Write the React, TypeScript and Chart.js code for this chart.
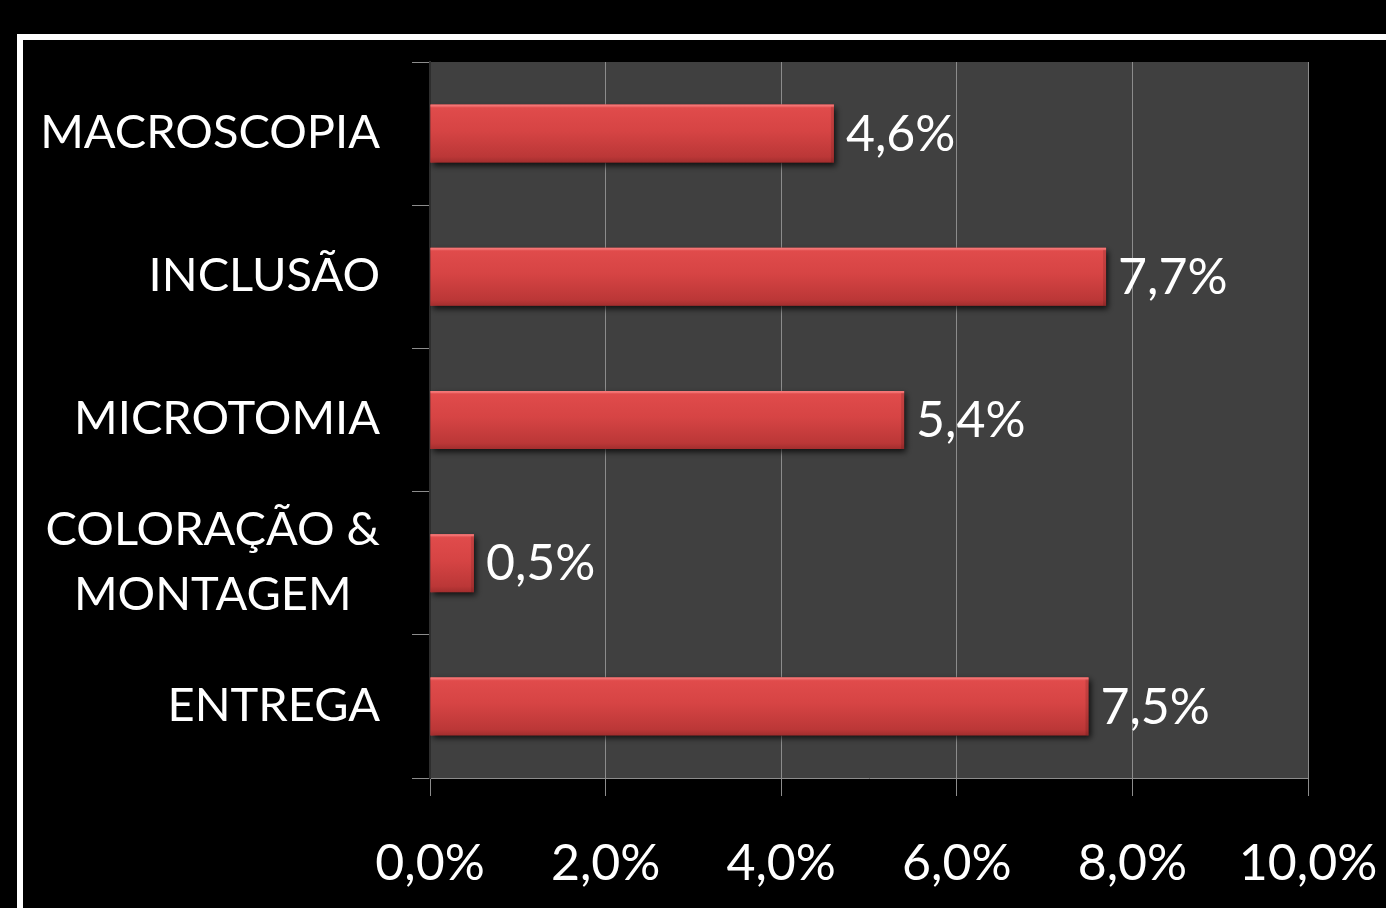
import React, { useEffect, useRef } from "react";
import { Chart, registerables } from "chart.js";

Chart.register(...registerables);

const categories: string[][] = [
  ["MACROSCOPIA"],
  ["INCLUSÃO"],
  ["MICROTOMIA"],
  ["COLORAÇÃO &", "MONTAGEM"],
  ["ENTREGA"],
];
const values: number[] = [4.6, 7.7, 5.4, 0.5, 7.5];
const valueLabels: string[] = ["4,6%", "7,7%", "5,4%", "0,5%", "7,5%"];
const xTickValues: number[] = [0, 2, 4, 6, 8, 10];
const xTickLabels: string[] = ["0,0%", "2,0%", "4,0%", "6,0%", "8,0%", "10,0%"];

const FONT_FAMILY = "Lato, 'Open Sans', sans-serif";
const FONT_SIZE = 47;
const NUM_FONT_SIZE = 50;

const plotBgPlugin = {
  id: "plotBg",
  beforeDraw(chart: any) {
    const { ctx, chartArea } = chart;
    ctx.save();
    ctx.fillStyle = "#404040";
    ctx.fillRect(chartArea.left, chartArea.top, chartArea.right - chartArea.left, chartArea.bottom - chartArea.top);
    ctx.restore();
  },
};

const barStylePlugin = {
  id: "barStyle",
  afterDatasetsDraw(chart: any) {
    const { ctx } = chart;
    const meta = chart.getDatasetMeta(0);
    meta.data.forEach((bar: any, i: number) => {
      const p = bar.getProps(["x", "y", "base", "height"], true);
      const left = Math.min(p.base, p.x);
      const right = Math.max(p.base, p.x);
      const top = p.y - p.height / 2;
      const h = p.height;
      const w = right - left;
      ctx.save();
      ctx.shadowColor = "rgba(0,0,0,0.75)";
      ctx.shadowBlur = 6;
      ctx.shadowOffsetX = 2;
      ctx.shadowOffsetY = 3;
      const g = ctx.createLinearGradient(0, top, 0, top + h);
      g.addColorStop(0, "#f27070");
      g.addColorStop(0.06, "#e04b4b");
      g.addColorStop(0.45, "#d64444");
      g.addColorStop(0.9, "#bb3737");
      g.addColorStop(1, "#a22e2e");
      ctx.fillStyle = g;
      ctx.fillRect(left, top, w, h);
      ctx.restore();
      ctx.save();
      ctx.fillStyle = "rgba(0,0,0,0.12)";
      ctx.fillRect(right - 3, top + 2, 3, h - 2);
      ctx.fillStyle = "rgba(255,140,140,0.35)";
      ctx.fillRect(left, top, w, 2);
      ctx.restore();
      ctx.save();
      ctx.fillStyle = "#ffffff";
      ctx.font = `${NUM_FONT_SIZE}px ${FONT_FAMILY}`;
      ctx.textAlign = "left";
      ctx.textBaseline = "middle";
      ctx.fillText(valueLabels[i], right + 12, p.y + 1);
      ctx.restore();
    });
  },
};

const yLabelPlugin = {
  id: "yLabels",
  afterDraw(chart: any) {
    const { ctx, chartArea } = chart;
    const yScale = chart.scales.y;
    const rightX = chartArea.left - 18 - 32;
    const lineH = 65;
    ctx.save();
    ctx.fillStyle = "#ffffff";
    ctx.font = `${FONT_SIZE}px ${FONT_FAMILY}`;
    ctx.textBaseline = "middle";
    ctx.textAlign = "center";
    categories.forEach((lines, i) => {
      const cy = yScale.getPixelForValue(i);
      const blockW = Math.max(...lines.map((l) => ctx.measureText(l).width));
      const cx = rightX - blockW / 2;
      const startY = cy - ((lines.length - 1) * lineH) / 2;
      lines.forEach((l, j) => {
        ctx.fillText(l, cx, startY + j * lineH - 1);
      });
    });
    ctx.restore();
  },
};

export default function App() {
  const canvasRef = useRef<HTMLCanvasElement | null>(null);

  useEffect(() => {
    const canvas = canvasRef.current;
    if (!canvas) return;
    const chart = new Chart(canvas, {
      type: "bar",
      data: {
        labels: categories.map((c) => c.join(" ")),
        datasets: [
          {
            data: values,
            backgroundColor: "#d64444",
            borderWidth: 0,
            categoryPercentage: 1,
            barPercentage: 0.405,
          },
        ],
      },
      options: {
        indexAxis: "y",
        responsive: false,
        animation: false,
        layout: { padding: { left: 0, top: 62, right: 78, bottom: 0 } },
        plugins: {
          legend: { display: false },
          tooltip: { enabled: false },
          title: { display: false },
        },
        scales: {
          x: {
            type: "linear",
            min: 0,
            max: 10,
            afterBuildTicks(scale: any) {
              scale.ticks = xTickValues.map((v) => ({ value: v }));
            },
            afterFit(scale: any) {
              scale.height = 130;
              scale.paddingLeft = 0;
              scale.paddingRight = 0;
            },
            ticks: {
              color: "#ffffff",
              font: { family: FONT_FAMILY, size: NUM_FONT_SIZE },
              padding: 38,
              maxRotation: 0,
              autoSkip: false,
              callback: (_v: any, idx: number) => xTickLabels[idx],
            },
            grid: {
              color: "#8c8c8c",
              lineWidth: 1,
              tickLength: 18,
              drawOnChartArea: true,
              drawTicks: true,
            },
            border: { display: true, color: "#8c8c8c", width: 1 },
          },
          y: {
            type: "category",
            afterFit(scale: any) {
              scale.width = 430;
              scale.paddingTop = 0;
              scale.paddingBottom = 0;
            },
            ticks: { display: false },
            grid: {
              color: "#8c8c8c",
              lineWidth: 1,
              tickLength: 18,
              drawOnChartArea: false,
              drawTicks: true,
              offset: true,
            },
            border: { display: true, color: "#2e2e2e", width: 2 },
          },
        },
      },
      plugins: [plotBgPlugin, barStylePlugin, yLabelPlugin],
    });
    return () => chart.destroy();
  }, []);

  return (
    <div
      style={{
        position: "fixed",
        left: 0,
        top: 0,
        width: 1386,
        height: 908,
        background: "#000000",
        overflow: "hidden",
      }}
    >
      <div
        style={{
          position: "absolute",
          left: 17,
          top: 34,
          width: 2000,
          height: 2000,
          border: "6px solid #ffffff",
          boxSizing: "border-box",
        }}
      />
      <canvas
        ref={canvasRef}
        width={1386}
        height={908}
        style={{ position: "absolute", left: 0, top: 0, width: 1386, height: 908 }}
      />
    </div>
  );
}
